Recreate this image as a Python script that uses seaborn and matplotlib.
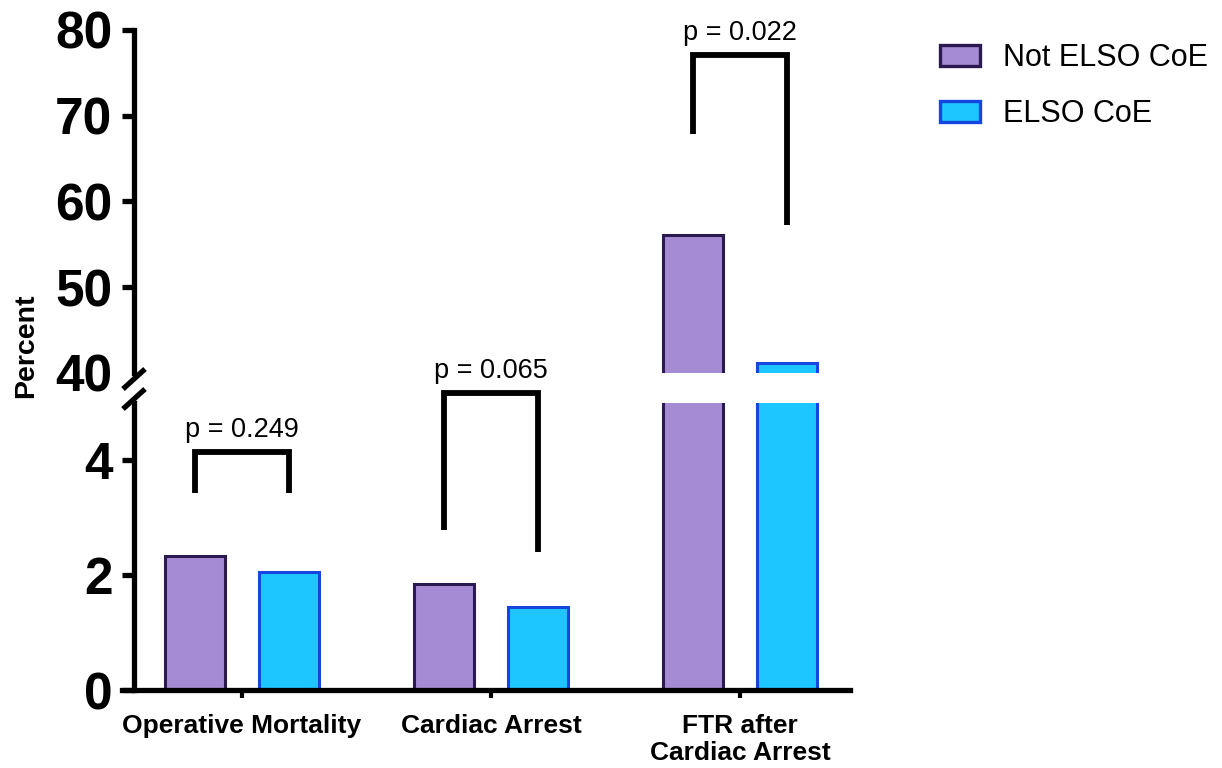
import matplotlib
matplotlib.use("Agg")
import matplotlib.pyplot as plt
from matplotlib.patches import Patch
from matplotlib.lines import Line2D
import pandas as pd
import seaborn as sns

# ---- data -------------------------------------------------------------
categories = ["Operative Mortality", "Cardiac Arrest", "FTR after\nCardiac Arrest"]
groups = ["Not ELSO CoE", "ELSO CoE"]
not_elso_coe = [2.33, 1.85, 56.1]
elso_coe = [2.05, 1.45, 41.2]

# significance brackets: (category index, top, left leg end, right leg end, label)
bracket_cat = [0, 1, 2]
bracket_top = [4.14, 5.17, 77.1]
bracket_left = [3.44, 2.79, 67.9]
bracket_right = [3.44, 2.41, 57.3]
p_labels = ["p = 0.249", "p = 0.065", "p = 0.022"]

lower_ticks = [0, 2, 4]
upper_ticks = [40, 50, 60, 70, 80]

# ---- style ------------------------------------------------------------
sns.set_style("ticks")
plt.rcParams["font.family"] = ["Liberation Sans", "DejaVu Sans"]
for key in ("text.color", "axes.labelcolor", "xtick.color", "ytick.color",
            "axes.edgecolor", "xtick.labelcolor", "ytick.labelcolor"):
    plt.rcParams[key] = "black"

fill_colors = ["#A58BD3", "#1EC6FF"]
edge_colors = ["#2B1A4F", "#1546E0"]
AXW = 3.8

df = pd.DataFrame({
    "category": categories * 2,
    "group": [groups[0]] * 3 + [groups[1]] * 3,
    "percent": not_elso_coe + elso_coe,
})

W, H = 1222, 768
fig = plt.figure(figsize=(W / 100, H / 100), dpi=100)

def px_axes(left, right, top, bottom):
    return [left / W, 1 - bottom / H, (right - left) / W, (bottom - top) / H]

ax_up = fig.add_axes(px_axes(122, 850, 30, 373))
ax_lo = fig.add_axes(px_axes(122, 850, 403, 690))

for ax in (ax_up, ax_lo):
    sns.barplot(data=df, x="category", y="percent", hue="group",
                order=categories, hue_order=groups, palette=fill_colors,
                saturation=1, width=0.75, gap=0.36, linewidth=2.2,
                errorbar=None, legend=False, ax=ax)
    for cont, ec in zip(ax.containers, edge_colors):
        for bar in cont:
            bar.set_edgecolor(ec)
    ax.set_xlim(-0.482, 2.442)
    ax.set_xlabel("")
    ax.set_ylabel("")
    for s in ("top", "right"):
        ax.spines[s].set_visible(False)
    ax.spines["left"].set_position(("data", -0.434))
    ax.spines["left"].set_linewidth(AXW)
    ax.spines["bottom"].set_linewidth(AXW)
    ax.tick_params(axis="y", length=8.6, width=AXW, pad=7)
    ax.set_facecolor("none")

ax_lo.set_ylim(0, 5)
ax_lo.set_yticks(lower_ticks)
ax_lo.set_yticklabels([str(t) for t in lower_ticks], fontweight="bold", fontsize=37)
ax_lo.tick_params(axis="x", length=6, width=3, pad=11)
ax_lo.set_xticks(range(len(categories)))
ax_lo.set_xticklabels(categories, fontweight="bold", fontsize=19, linespacing=1.2)

ax_up.set_ylim(40, 80)
ax_up.set_yticks(upper_ticks)
ax_up.set_yticklabels([str(t) for t in upper_ticks], fontweight="bold", fontsize=37)
ax_up.spines["bottom"].set_visible(False)
ax_up.tick_params(axis="x", bottom=False, labelbottom=False)
ax_up.yaxis.get_major_ticks()[0].tick1line.set_visible(False)

# axis break marks
for yc in (379, 399):
    x0, x1 = 123, 145
    fig.add_artist(Line2D([x0 / W, x1 / W], [1 - (yc + 10) / H, 1 - (yc - 10) / H],
                          transform=fig.transFigure, color="black", lw=AXW,
                          solid_capstyle="butt"))

# significance brackets
leg = 0.1875
for ci, yt, yl, yr, lab in zip(bracket_cat, bracket_top, bracket_left, bracket_right, p_labels):
    ax = ax_up if yt > 40 else ax_lo
    ax.plot([ci - leg, ci - leg, ci + leg, ci + leg], [yl, yt, yt, yr],
            color="black", lw=4.2, clip_on=False, solid_joinstyle="miter",
            solid_capstyle="butt", zorder=5)
    ax.annotate(lab, xy=(ci, yt), xytext=(0, 11), textcoords="offset points",
                ha="center", va="baseline", fontsize=19.5, annotation_clip=False)

# y label
fig.text(26 / W, 1 - 346 / H, "Percent", rotation=90, ha="center", va="center",
         fontsize=20.5, fontweight="bold")

# legend
handles = [Patch(facecolor=fc, edgecolor=ec, linewidth=2.4, label=g)
           for fc, ec, g in zip(fill_colors, edge_colors, groups)]
fig.legend(handles=handles, loc="upper left", bbox_to_anchor=(940 / W, 1 - 43 / H),
           frameon=False, fontsize=22, handlelength=1.31, handleheight=0.66,
           handletextpad=0.75, labelspacing=0.85, borderpad=0, borderaxespad=0)

fig.savefig("out.png", dpi=100, facecolor="white")
